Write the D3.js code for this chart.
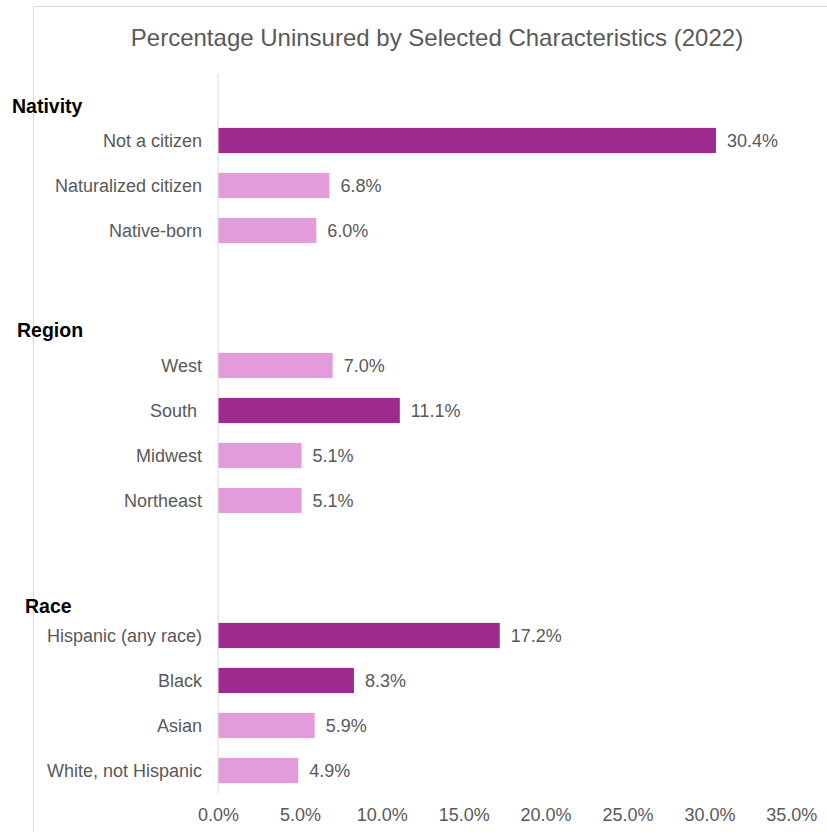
<!DOCTYPE html>
<html>
<head>
<meta charset="utf-8">
<script src="https://cdn.jsdelivr.net/npm/d3@7"></script>
<style>
  html, body { margin: 0; padding: 0; background: #ffffff; }
  svg { display: block; font-family: "Liberation Sans", Arial, sans-serif; }
</style>
</head>
<body>
<svg id="chart" width="827" height="832"></svg>
<script>
// Chart data
const title = "Percentage Uninsured by Selected Characteristics (2022)";
const groups = ["Nativity", "Region", "Race"];
const nativityCategories = ["Not a citizen", "Naturalized citizen", "Native-born"];
const nativityValues = [30.4, 6.8, 6.0];
const regionCategories = ["West", "South ", "Midwest", "Northeast"];
const regionValues = [7.0, 11.1, 5.1, 5.1];
const raceCategories = ["Hispanic (any race)", "Black", "Asian", "White, not Hispanic"];
const raceValues = [17.2, 8.3, 5.9, 4.9];
// categories drawn in the darker shade
const emphasized = ["Not a citizen", "South ", "Hispanic (any race)", "Black"];
const tickValues = [0, 5, 10, 15, 20, 25, 30, 35];

// Build the row list: a blank slot at the top, two blanks between groups
const rows = [];
const slots = ["gap-top"];
const groupData = [
  { name: groups[0], cats: nativityCategories, vals: nativityValues },
  { name: groups[1], cats: regionCategories, vals: regionValues },
  { name: groups[2], cats: raceCategories, vals: raceValues }
];
groupData.forEach((g, gi) => {
  if (gi > 0) { slots.push("gap-" + gi + "a", "gap-" + gi + "b"); }
  g.cats.forEach((c, i) => {
    rows.push({ group: g.name, category: c, value: g.vals[i], first: i === 0 });
    slots.push(c);
  });
});

const svg = d3.select("#chart");
const textColor = "#595959";
const darkFill = "#9F2A8F";
const lightFill = "#E29CDB";

// Outer frame (top and left edges)
svg.append("line").attr("x1", 33.5).attr("x2", 827).attr("y1", 6.5).attr("y2", 6.5)
  .attr("stroke", "#d9d9d9").attr("stroke-width", 1);
svg.append("line").attr("x1", 33.5).attr("x2", 33.5).attr("y1", 6.5).attr("y2", 832)
  .attr("stroke", "#d9d9d9").attr("stroke-width", 1);

// Title
svg.append("text")
  .attr("x", 437).attr("y", 46)
  .attr("text-anchor", "middle")
  .attr("font-size", 24)
  .attr("fill", textColor)
  .text(title);

// Scales
const x = d3.scaleLinear().domain([0, 35]).range([218, 791.3]);
const y = d3.scaleBand().domain(slots).range([73, 793]).paddingInner(0.44).paddingOuter(0.22);

// Vertical category axis line
svg.append("line")
  .attr("x1", x(0)).attr("x2", x(0))
  .attr("y1", 73).attr("y2", 793)
  .attr("stroke", "#d9d9d9").attr("stroke-width", 1);

// Bars
svg.append("g").selectAll("rect")
  .data(rows)
  .join("rect")
  .attr("x", x(0) + 0.5)
  .attr("y", d => y(d.category))
  .attr("width", d => x(d.value) - x(0) - 0.5)
  .attr("height", y.bandwidth())
  .attr("fill", d => emphasized.includes(d.category) ? darkFill : lightFill);

// Value labels
svg.append("g").selectAll("text")
  .data(rows)
  .join("text")
  .attr("x", d => x(d.value) + 11)
  .attr("y", d => y(d.category) + y.bandwidth() / 2)
  .attr("dy", "0.35em")
  .attr("font-size", 18)
  .attr("fill", textColor)
  .text(d => d.value.toFixed(1) + "%");

// Category labels
svg.append("g").selectAll("text")
  .data(rows)
  .join("text")
  .attr("x", 202)
  .attr("y", d => y(d.category) + y.bandwidth() / 2)
  .attr("dy", "0.35em")
  .attr("text-anchor", "end")
  .attr("font-size", 18)
  .attr("fill", textColor)
  .style("white-space", "pre")
  .text(d => d.category);

// Group headings, placed relative to each group's first row
const headingLayout = {
  "Nativity": { x: 12, dy: -27.5 },
  "Region": { x: 17, dy: -29 },
  "Race": { x: 25, dy: -22.5 }
};
svg.append("g").selectAll("text")
  .data(rows.filter(d => d.first))
  .join("text")
  .attr("x", d => headingLayout[d.group].x)
  .attr("y", d => y(d.category) + y.bandwidth() / 2 + headingLayout[d.group].dy)
  .attr("font-size", 19.5)
  .attr("font-weight", "bold")
  .attr("fill", "#000000")
  .text(d => d.group);

// Value axis (labels only)
const xAxis = d3.axisBottom(x)
  .tickValues(tickValues)
  .tickSize(0)
  .tickPadding(0)
  .tickFormat(d => d.toFixed(1) + "%");
const axisG = svg.append("g")
  .attr("transform", "translate(0, 808.5)")
  .call(xAxis);
axisG.select(".domain").remove();
axisG.selectAll("text")
  .attr("font-family", "\"Liberation Sans\", Arial, sans-serif")
  .attr("font-size", 18)
  .attr("fill", textColor);
</script>
</body>
</html>
